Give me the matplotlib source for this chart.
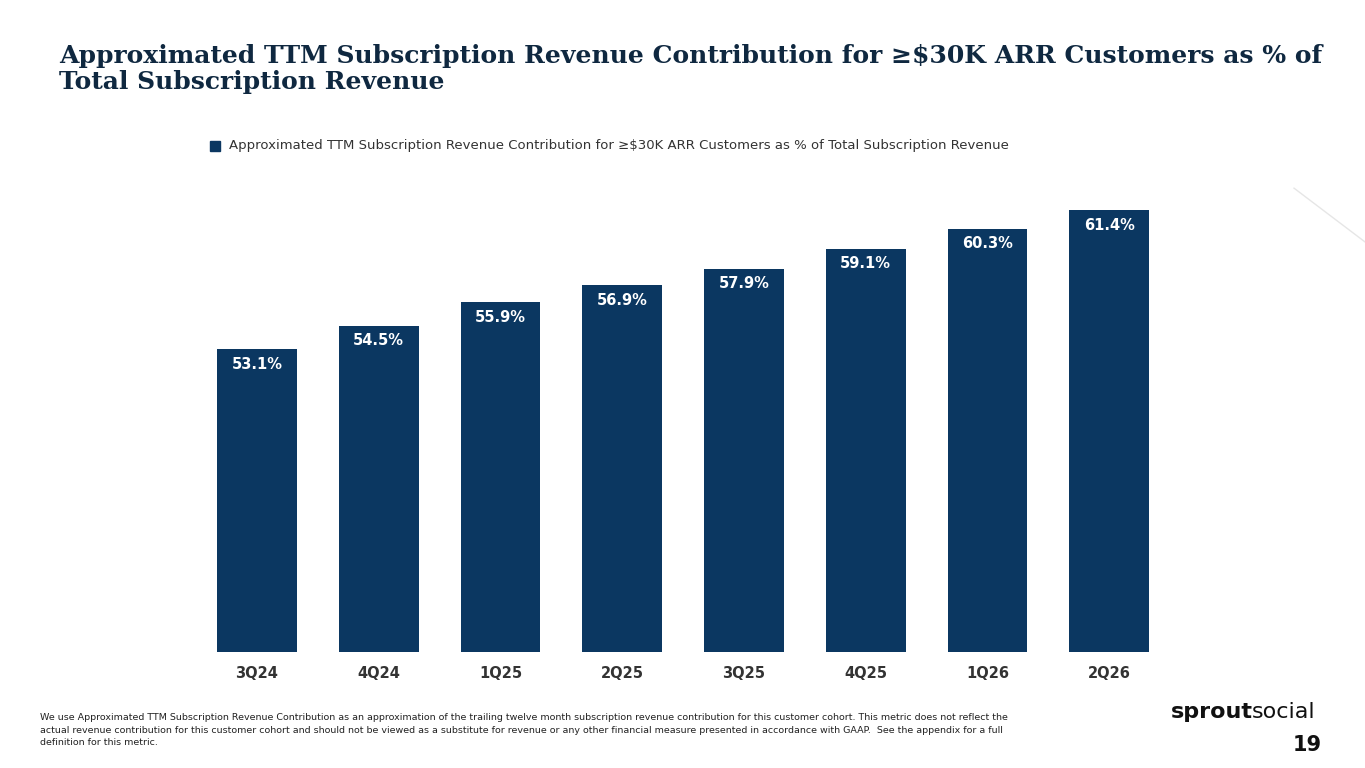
import matplotlib.pyplot as plt
from matplotlib.patches import Rectangle

quarters = ["3Q24", "4Q24", "1Q25", "2Q25", "3Q25", "4Q25", "1Q26", "2Q26"]
values = [53.1, 54.5, 55.9, 56.9, 57.9, 59.1, 60.3, 61.4]
series_name = "Approximated TTM Subscription Revenue Contribution for ≥$30K ARR Customers as % of Total Subscription Revenue"

navy = "#0b3761"
fig = plt.figure(figsize=(13.65, 7.68), dpi=100)
fig.patch.set_facecolor("white")

# title
fig.text(0.043, 0.91, "Approximated TTM Subscription Revenue Contribution for ≥$30K ARR Customers as % of\nTotal Subscription Revenue",
         fontsize=18, fontweight="bold", family=["DejaVu Serif"], color="#0f2840",
         va="center", ha="left", linespacing=1.1)

ax = fig.add_axes([0.1436, 0.151, 0.7136, 0.656])
x = range(len(quarters))
ax.bar(x, values, width=0.655, color=navy)
for i, v in zip(x, values):
    ax.text(i, v - 0.45, f"{v}%", ha="center", va="top", color="white",
            fontsize=10.5, fontweight="bold")
ax.set_xlim(-0.5, 7.5)
ax.set_ylim(35, 65.1)
ax.set_xticks(list(x))
ax.set_xticklabels(quarters, fontsize=10.5, fontweight="bold", color="#333333")
ax.tick_params(axis="x", length=0, pad=10)
ax.set_yticks([])
for s in ax.spines.values():
    s.set_visible(False)

# legend
fig.patches.append(Rectangle((0.154, 0.803), 0.0075, 0.013, transform=fig.transFigure,
                             color=navy))
fig.text(0.168, 0.810, series_name, fontsize=9.5, color="#333333", va="center")

# footnote
fig.text(0.029, 0.027,
         "We use Approximated TTM Subscription Revenue Contribution as an approximation of the trailing twelve month subscription revenue contribution for this customer cohort. This metric does not reflect the\n"
         "actual revenue contribution for this customer cohort and should not be viewed as a substitute for revenue or any other financial measure presented in accordance with GAAP.  See the appendix for a full\n"
         "definition for this metric.",
         fontsize=6.8, color="#222222", va="bottom", ha="left", linespacing=1.5)

# logo and page number
fig.text(0.858, 0.073, "sprout", fontsize=16, fontweight="bold", color="#111111", va="center")
fig.text(0.917, 0.073, "social", fontsize=16, color="#111111", va="center")
fig.text(0.968, 0.03, "19", fontsize=15, fontweight="bold", color="#111111", ha="right", va="center")

# faint decorative line
fig.add_artist(plt.Line2D([0.948, 1.0], [0.755, 0.685], color="#e6e6e6", lw=1))

fig.savefig("out.png", dpi=100)
